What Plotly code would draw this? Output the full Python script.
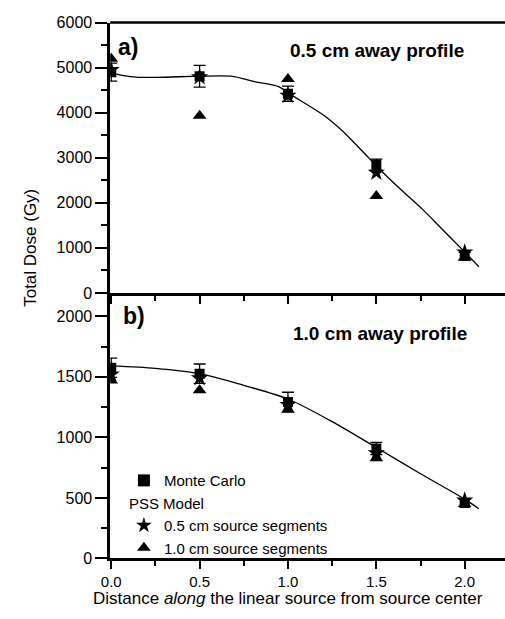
import plotly.graph_objects as go

# ---------------- data ----------------
dist = [0.0, 0.5, 1.0, 1.5, 2.0]

# Panel a) 0.5 cm away profile
mc_a = [4900, 4810, 4420, 2850, 820]
mc_a_err = [200, 240, 170, 120, 80]
pss05_a = [4950, 4790, 4380, 2670, 900]
pss10_a = [5200, 3930, 4750, 2150, 780]
fit_a_x = [0.0, 0.03, 0.14, 0.26, 0.5, 0.68, 0.81, 0.95, 1.0, 1.2, 1.31, 1.42, 1.52, 1.64, 1.76, 1.87, 1.98, 2.08]
fit_a_y = [4900, 4856, 4790, 4785, 4810, 4810, 4690, 4575, 4440, 3950, 3590, 3150, 2740, 2290, 1860, 1425, 990, 583]

# Panel b) 1.0 cm away profile
mc_b = [1575, 1526, 1293, 908, 458]
mc_b_err = [80, 80, 80, 50, 30]
pss05_b = [1520, 1490, 1270, 870, 480]
pss10_b = [1470, 1390, 1229, 827, 450]
fit_b_x = [0.0, 0.25, 0.5, 0.75, 1.0, 1.25, 1.5, 1.75, 2.0, 2.08]
fit_b_y = [1590, 1570, 1526, 1430, 1317, 1130, 916, 700, 490, 410]

xticks = [0.0, 0.5, 1.0, 1.5, 2.0]
xticklabels = ["0.0", "0.5", "1.0", "1.5", "2.0"]

FONT = "Liberation Sans, Arial, sans-serif"
W, H = 505, 619

fig = go.Figure()

def add_panel(xa, ya, fx, fy, mc, mcerr, p05, p10, legend):
    fig.add_trace(go.Scatter(x=fx, y=fy, mode="lines", line=dict(color="black", width=1.3, shape="spline", smoothing=0.8),
                             xaxis=xa, yaxis=ya, showlegend=False, hoverinfo="skip"))
    fig.add_trace(go.Scatter(x=dist, y=mc, mode="markers", name="Monte Carlo",
                             marker=dict(symbol="square", size=10, color="black"),
                             error_y=dict(type="data", array=mcerr, color="black", thickness=1.3, width=6),
                             xaxis=xa, yaxis=ya, showlegend=legend, legendrank=1))
    fig.add_trace(go.Scatter(x=dist, y=p05, mode="markers", name="0.5 cm source segments",
                             marker=dict(symbol="star", size=13, color="black"),
                             xaxis=xa, yaxis=ya, showlegend=legend, legendgroup="pss",
                             legendgrouptitle=dict(text="PSS Model") if legend else None, legendrank=2))
    fig.add_trace(go.Scatter(x=dist, y=p10, mode="markers", name="1.0 cm source segments",
                             marker=dict(symbol="triangle-up", size=12, color="black"),
                             xaxis=xa, yaxis=ya, showlegend=legend, legendgroup="pss", legendrank=3))

add_panel("x2", "y2", fit_a_x, fit_a_y, mc_a, mc_a_err, pss05_a, pss10_a, False)
add_panel("x", "y", fit_b_x, fit_b_y, mc_b, mc_b_err, pss05_b, pss10_b, True)

px = lambda p: p / W
py = lambda p: 1 - p / H

xcommon = dict(range=[-0.006, 2.228], showline=True, linecolor="black", linewidth=2.5,
               ticks="outside", ticklen=8, tickwidth=2, tickcolor="black",
               tickvals=xticks, ticktext=xticklabels, showgrid=False, zeroline=False,
               minor=dict(ticks="outside", ticklen=5, tickwidth=2, tickcolor="black", dtick=0.25, tick0=0),
               tickfont=dict(family=FONT, size=15, color="black"))
ycommon = dict(showline=True, linecolor="black", linewidth=2.5, ticks="outside", ticklen=12, tickwidth=2,
               tickcolor="black", showgrid=False, zeroline=False,
               tickfont=dict(family=FONT, size=16, color="black"))

fig.update_layout(
    width=W, height=H, margin=dict(l=0, r=0, t=0, b=0),
    plot_bgcolor="white", paper_bgcolor="white",
    xaxis=dict(domain=[px(103), 1], anchor="y", **xcommon),
    xaxis2=dict(domain=[px(103), 1], anchor="y2", matches="x", **{**xcommon, "showticklabels": False}),
    yaxis=dict(domain=[py(566), py(293)], anchor="x", range=[0, 2193], dtick=500, tick0=0,
               minor=dict(ticks="outside", ticklen=6, tickwidth=2, tickcolor="black", dtick=250, tick0=0), **ycommon),
    yaxis2=dict(domain=[py(293), py(15)], anchor="x2", range=[0, 6000], dtick=1000, tick0=0,
                minor=dict(ticks="outside", ticklen=6, tickwidth=2, tickcolor="black", dtick=500, tick0=0), **ycommon),
    showlegend=True,
    legend=dict(x=px(117), y=py(469), xanchor="left", yanchor="top", bgcolor="rgba(0,0,0,0)",
                font=dict(family=FONT, size=15, color="black"), tracegroupgap=0, itemsizing="constant",
                grouptitlefont=dict(family=FONT, size=15, color="black")),
)

# top border of panel a
fig.add_shape(type="line", xref="paper", yref="paper", x0=px(103), x1=1, y0=py(15), y1=py(15),
              line=dict(color="black", width=2.5))

ann = [
    dict(text="<b>a)</b>", x=px(109), y=py(40), xanchor="left", yanchor="middle", size=23),
    dict(text="<b>0.5 cm away profile</b>", x=px(375), y=py(44), xanchor="center", yanchor="middle", size=19),
    dict(text="<b>b)</b>", x=px(114), y=py(317), xanchor="left", yanchor="middle", size=23),
    dict(text="<b>1.0 cm away profile</b>", x=px(378), y=py(335), xanchor="center", yanchor="middle", size=19),
    dict(text="Distance <i>along</i> the linear source from source center", x=px(284), y=py(607),
         xanchor="center", yanchor="middle", size=17),
]
for a in ann:
    fig.add_annotation(text=a["text"], x=a["x"], y=a["y"], xref="paper", yref="paper", xanchor=a["xanchor"],
                       yanchor=a["yanchor"], showarrow=False, font=dict(family=FONT, size=a["size"], color="black"))
fig.add_annotation(text="Total Dose (Gy)", x=px(22), y=py(247), xref="paper", yref="paper", textangle=-90,
                   showarrow=False, xanchor="center", yanchor="middle", font=dict(family=FONT, size=17, color="black"))

fig.write_html("out.html")
